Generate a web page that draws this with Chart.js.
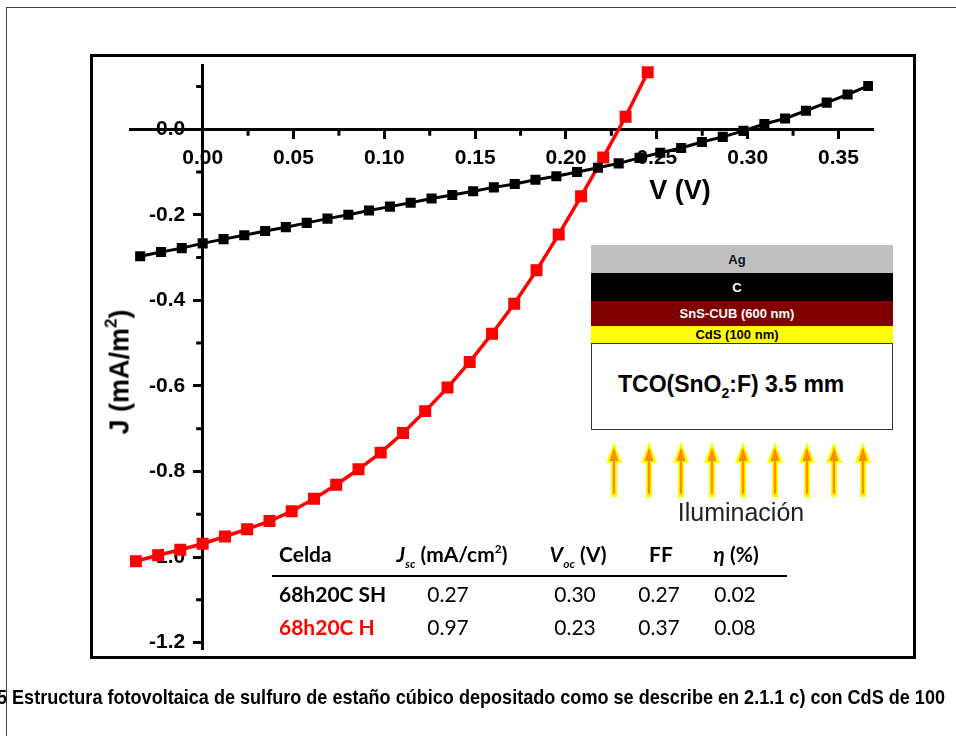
<!DOCTYPE html>
<html lang="es">
<head>
<meta charset="utf-8">
<title>Curvas J-V</title>
<script src="https://cdn.jsdelivr.net/npm/chart.js@4.4.1/dist/chart.umd.min.js"></script>
<style>
  html, body { margin: 0; padding: 0; background: #fff; }
  body { width: 956px; height: 736px; position: relative; overflow: hidden; font-family: "Liberation Sans", Arial, sans-serif; }
  .abs { position: absolute; }
  #pageBorder { left: 6px; top: 7px; width: 1000px; height: 800px; border-left: 1px solid #444; border-top: 1px solid #444; }
  #frame { left: 90px; top: 54px; width: 826px; height: 605px; border: 3px solid #000; box-sizing: border-box; }
  #jv { left: 0; top: 0; }
  .axisTitle { font-weight: bold; font-size: 27px; color: #000; white-space: nowrap; transform: translate(-50%, -50%); }
  #yTitle { left: 120px; top: 372px; transform: translate(-50%, -50%) rotate(-90deg); }
  #xTitle { left: 680px; top: 190px; }
  .axisTitle sup { font-size: 17px; vertical-align: 12px; line-height: 0; }
  .layer { left: 591px; width: 302px; box-sizing: border-box; padding-right: 10px; text-align: center; font-weight: bold; font-size: 13px; display: flex; align-items: center; justify-content: center; }
  #tco { border: 1px solid #333; background: #fff; }
  #tcoText { left: 618px; top: 384px; transform: translateY(-50%); font-weight: bold; font-size: 23px; white-space: nowrap; }
  #tcoText sub { font-size: 14px; vertical-align: -6px; line-height: 0; }
  #ilum { left: 741px; top: 512px; transform: translate(-50%, -50%); font-size: 25px; color: #222; white-space: nowrap; }
  .cell { font-family: Lato, "Open Sans", sans-serif; font-size: 21px; white-space: nowrap; transform: translate(-50%, -50%); color: #000; }
  .cell.name { transform: translateY(-50%); font-weight: bold; }
  .cell.head { font-weight: bold; }
  .cell sub { font-size: 12px; vertical-align: -6px; line-height: 0; }
  .cell sup { font-size: 12px; vertical-align: 9px; line-height: 0; }
  #rule { left: 272px; top: 575px; width: 515px; height: 2px; background: #000; }
  #caption { left: -3px; top: 697px; transform-origin: left center; font-family: "Liberation Sans Narrow", "Liberation Sans", sans-serif; font-weight: bold; font-size: 21px; white-space: nowrap; line-height: 24px; margin-top: -12px; }
</style>
</head>
<body>
<div id="pageBorder" class="abs"></div>
<div id="frame" class="abs"></div>
<canvas id="jv" class="abs" width="956" height="736"></canvas>

<div id="yTitle" class="abs axisTitle">J (mA/m<sup>2</sup>)</div>
<div id="xTitle" class="abs axisTitle">V (V)</div>

<div class="abs layer" style="top:245px;height:28px;background:#c0c0c0;color:#111;">Ag</div>
<div class="abs layer" style="top:273px;height:28px;background:#000;color:#fff;">C</div>
<div class="abs layer" style="top:301px;height:25px;background:#800000;color:#fff;">SnS-CUB (600 nm)</div>
<div class="abs layer" style="top:326px;height:17px;background:#ffff00;color:#000;">CdS (100 nm)</div>
<div id="tco" class="abs layer" style="top:343px;height:87px;"></div>
<div id="tcoText" class="abs">TCO(SnO<sub>2</sub>:F) 3.5 mm</div>
<svg id="arrows" class="abs" style="left:0;top:0;" width="956" height="736"></svg>
<div id="ilum" class="abs">Iluminación</div>

<div id="table"></div>
<div id="rule" class="abs"></div>

<div id="caption" class="abs">5 Estructura fotovoltaica de sulfuro de estaño cúbico depositado como se describe en 2.1.1 c) con CdS de 100</div>

<script>
// Cell 68h20C SH (black)
const voltSH = [-0.0344, -0.0229, -0.0115, 0.0, 0.0115, 0.0229, 0.0344, 0.0458, 0.0573, 0.0687,
  0.0802, 0.0916, 0.1031, 0.1145, 0.1260, 0.1374, 0.1489, 0.1603, 0.1718, 0.1832,
  0.1947, 0.2061, 0.2176, 0.2290, 0.2405, 0.2519, 0.2634, 0.2748, 0.2863, 0.2977,
  0.3092, 0.3206, 0.3321, 0.3435, 0.3550, 0.3664];
const currSH = [-0.297, -0.287, -0.278, -0.267, -0.257, -0.248, -0.238, -0.229, -0.219, -0.209,
  -0.200, -0.190, -0.181, -0.172, -0.162, -0.154, -0.145, -0.136, -0.128, -0.118,
  -0.110, -0.100, -0.090, -0.080, -0.067, -0.055, -0.044, -0.030, -0.018, -0.004,
  0.012, 0.025, 0.043, 0.062, 0.081, 0.101];

// Cell 68h20C H (red)
const voltH = [-0.0368, -0.0245, -0.0123, 0.0, 0.0123, 0.0245, 0.0368, 0.0490, 0.0613, 0.0735,
  0.0858, 0.0980, 0.1103, 0.1225, 0.1348, 0.1470, 0.1593, 0.1715, 0.1838, 0.1960,
  0.2083, 0.2205, 0.2328, 0.2450];
const currH = [-1.010, -0.996, -0.983, -0.969, -0.952, -0.935, -0.916, -0.893, -0.864, -0.831,
  -0.795, -0.756, -0.710, -0.659, -0.604, -0.544, -0.478, -0.408, -0.330, -0.246,
  -0.157, -0.066, 0.029, 0.133];

// axis ticks
const xTickValues = [0, 0.05, 0.10, 0.15, 0.20, 0.25, 0.30, 0.35];
const xMinorValues = [0.025, 0.075, 0.125, 0.175, 0.225, 0.275, 0.325];
const yTickValues = [0, -0.2, -0.4, -0.6, -0.8, -1.0, -1.2];
const yMinorValues = [0.1, -0.1, -0.3, -0.5, -0.7, -0.9, -1.1];

// table of parameters
const tableNames = ["68h20C SH", "68h20C H"];
const tableColors = ["#000", "#ff0000"];
const jscValues = ["0.27", "0.97"];
const vocValues = ["0.30", "0.23"];
const ffValues = ["0.27", "0.37"];
const etaValues = ["0.02", "0.08"];

// arrow x positions (illumination)
const arrowXs = [614, 649, 681, 712, 743, 775, 807, 834, 863];

function toPoints(xs, ys) {
  return xs.map((v, i) => ({ x: v, y: ys[i] }));
}

// short minor ticks on both axes
const minorTicks = {
  id: "minorTicks",
  beforeDatasetsDraw(chart) {
    const { ctx, scales } = chart;
    const axisY = scales.y.getPixelForValue(0);
    const axisX = scales.x.getPixelForValue(0);
    ctx.save();
    ctx.strokeStyle = "#000";
    ctx.lineWidth = 3;
    ctx.beginPath();
    xMinorValues.forEach((v) => {
      const px = scales.x.getPixelForValue(v);
      ctx.moveTo(px, axisY);
      ctx.lineTo(px, axisY + 6.5);
    });
    yMinorValues.forEach((v) => {
      const py = scales.y.getPixelForValue(v);
      ctx.moveTo(axisX, py);
      ctx.lineTo(axisX - 6.5, py);
    });
    ctx.stroke();
    ctx.restore();
  },
};

const tickFont = { family: "Liberation Sans", weight: "bold", size: 21 };

function initChart() {
  const ctx = document.getElementById("jv");
  new Chart(ctx, {
    type: "line",
    data: {
      datasets: [
        {
          label: "68h20C SH",
          data: toPoints(voltSH, currSH),
          borderColor: "#000",
          backgroundColor: "#000",
          borderWidth: 3,
          pointStyle: "rect",
          pointRadius: 5,
          tension: 0,
        },
        {
          label: "68h20C H",
          data: toPoints(voltH, currH),
          borderColor: "#ff0000",
          backgroundColor: "#ff0000",
          borderWidth: 3.5,
          pointStyle: "rect",
          pointRadius: 6,
          tension: 0,
        },
      ],
    },
    options: {
      responsive: false,
      animation: false,
      layout: { padding: { left: 130, right: 83, top: 65, bottom: 87 } },
      plugins: { legend: { display: false }, tooltip: { enabled: false } },
      scales: {
        x: {
          type: "linear",
          position: { y: 0 },
          min: -0.04,
          max: 0.369,
          afterBuildTicks: (scale) => {
            scale.ticks = xTickValues.map((v) => ({ value: v }));
          },
          ticks: {
            color: "#000",
            font: tickFont,
            padding: 8,
            maxRotation: 0,
            callback: (v) => v.toFixed(2),
          },
          grid: { drawOnChartArea: false, drawTicks: true, tickLength: 8, tickWidth: 3, tickColor: "#000" },
          border: { display: true, color: "#000", width: 3 },
        },
        y: {
          type: "linear",
          position: { x: 0 },
          min: -1.215,
          max: 0.15,
          afterBuildTicks: (scale) => {
            scale.ticks = yTickValues.map((v) => ({ value: v }));
          },
          ticks: {
            color: "#000",
            font: tickFont,
            padding: 10,
            // labels of a value-positioned axis sit on the axis line, so pad with spaces
            callback: (v) => v.toFixed(1) + "   ",
          },
          grid: { drawOnChartArea: false, drawTicks: true, tickLength: 8, tickWidth: 3, tickColor: "#000" },
          border: { display: true, color: "#000", width: 3 },
        },
      },
    },
    plugins: [minorTicks],
  });
}

function buildArrows() {
  const svg = document.getElementById("arrows");
  const ns = "http://www.w3.org/2000/svg";
  const top = 442, bottom = 497;
  arrowXs.forEach((x) => {
    const outer = document.createElementNS(ns, "polygon");
    outer.setAttribute("points", [
      [x, top], [x + 8, top + 21], [x + 3, top + 21], [x + 3, bottom],
      [x - 3, bottom], [x - 3, top + 21], [x - 8, top + 21],
    ].map((p) => p.join(",")).join(" "));
    outer.setAttribute("fill", "#ffff00");
    svg.appendChild(outer);
    const inner = document.createElementNS(ns, "polygon");
    inner.setAttribute("points", [
      [x, top + 5], [x + 4.5, top + 19], [x + 1.2, top + 19], [x + 1.2, bottom - 3],
      [x - 1.2, bottom - 3], [x - 1.2, top + 19], [x - 4.5, top + 19],
    ].map((p) => p.join(",")).join(" "));
    inner.setAttribute("fill", "#ff8c00");
    svg.appendChild(inner);
  });
}

function addCell(html, x, y, cls, color) {
  const d = document.createElement("div");
  d.className = "abs cell " + cls;
  d.style.left = x + "px";
  d.style.top = y + "px";
  if (color) d.style.color = color;
  d.innerHTML = html;
  document.getElementById("table").appendChild(d);
}

function buildTable() {
  const cols = [448, 575, 659, 735];
  const headY = 553;
  const rowYs = [593, 626];
  addCell("Celda", 279, headY, "name");
  addCell("<i>J</i><sub><i>sc</i></sub> (mA/cm<sup>2</sup>)", 452, headY, "head");
  addCell("<i>V</i><sub><i>oc</i></sub> (V)", 578, headY, "head");
  addCell("FF", 661, headY, "head");
  addCell("<i>&eta;</i> (%)", 736, headY, "head");
  tableNames.forEach((name, i) => {
    const y = rowYs[i];
    addCell(name, 279, y, "name", tableColors[i]);
    addCell(jscValues[i], cols[0], y, "");
    addCell(vocValues[i], cols[1], y, "");
    addCell(ffValues[i], cols[2], y, "");
    addCell(etaValues[i], cols[3], y, "");
  });
}

function fitCaption() {
  const cap = document.getElementById("caption");
  const w = cap.getBoundingClientRect().width;
  cap.style.transform = "scaleX(" + (948 / w) + ")";
}

document.addEventListener("DOMContentLoaded", function () {
  initChart();
  buildArrows();
  buildTable();
  fitCaption();
});
</script>
</body>
</html>
